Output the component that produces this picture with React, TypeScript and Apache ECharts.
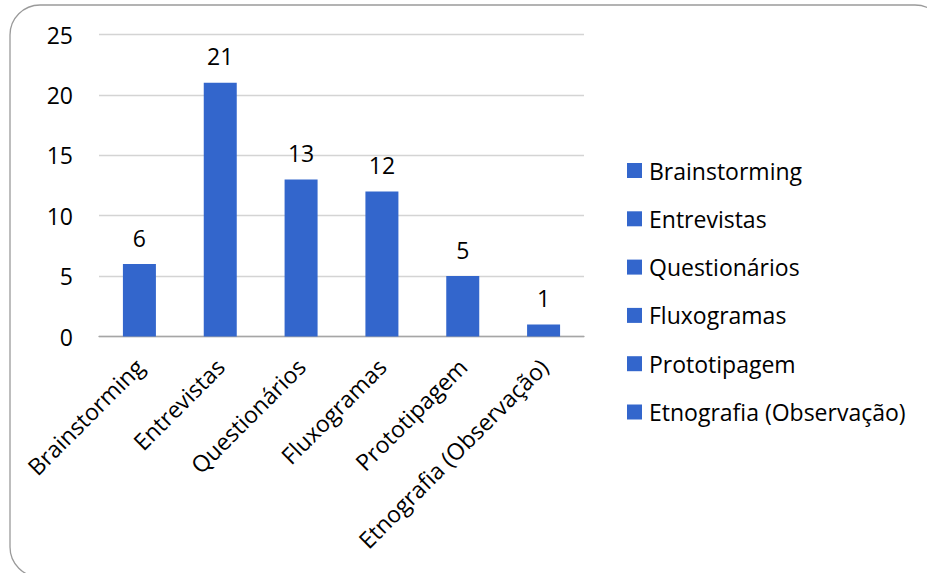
import React, { useEffect, useRef } from "react";
import * as echarts from "echarts";

const categories: string[] = [
  "Brainstorming",
  "Entrevistas",
  "Questionários",
  "Fluxogramas",
  "Prototipagem",
  "Etnografia (Observação)",
];
const values: number[] = [6, 21, 13, 12, 5, 1];
const yTicks = { min: 0, max: 25, interval: 5 };

const FONT = "'Open Sans', 'Noto Sans', sans-serif";
const BAR = "#3366CC";
const FS = 23;

export default function App() {
  const ref = useRef<HTMLDivElement>(null);
  useEffect(() => {
    if (!ref.current) return;
    const chart = echarts.init(ref.current, undefined, { renderer: "svg" });
    const series = categories.map((name, i) => ({
      type: "bar",
      name,
      stack: "all",
      xAxisIndex: 0,
      barWidth: 33,
      itemStyle: { color: BAR },
      label: {
        show: true,
        position: "top",
        distance: 15,
        color: "#000",
        fontSize: FS,
        fontFamily: FONT,
      },
      data: categories.map((_, j) => (j === i ? values[i] : "-")),
    }));
    chart.setOption({
      animation: false,
      backgroundColor: "#fff",
      textStyle: { fontFamily: FONT },
      graphic: [
        {
          type: "rect",
          shape: { x: 10, y: 5, width: 935, height: 572, r: 30 },
          style: { fill: "none", stroke: "#9a9a9a", lineWidth: 1.3 },
          silent: true,
          z: -1,
        },
      ],
      grid: { left: 99, right: 343, top: 34.5, bottom: 236.5 },
      legend: {
        orient: "vertical",
        left: 622,
        top: 154,
        icon: "rect",
        itemWidth: 15,
        itemHeight: 15,
        itemGap: 25.3,
        selectedMode: false,
        data: categories,
        textStyle: {
          fontSize: FS,
          lineHeight: 23,
          color: "#000",
          fontFamily: FONT,
          padding: [0, 0, 0, 2],
        },
      },
      xAxis: [
        {
          type: "category",
          data: categories,
          axisLine: { lineStyle: { color: "#a6a6a6", width: 1.3 } },
          axisTick: { length: 8, lineStyle: { color: "#a6a6a6", width: 1.3 } },
          axisLabel: {
            rotate: 45,
            margin: 26,
            interval: 0,
            color: "#000",
            fontSize: FS,
            fontFamily: FONT,
          },
        },
        {
          type: "category",
          data: categories,
          position: "bottom",
          axisLine: { show: false },
          axisLabel: { show: false },
          axisTick: {
            inside: true,
            length: 7,
            lineStyle: { color: "#a6a6a6", width: 1.3 },
          },
        },
      ],
      yAxis: {
        type: "value",
        min: yTicks.min,
        max: yTicks.max,
        interval: yTicks.interval,
        axisLine: { show: false },
        axisTick: { show: false },
        splitLine: { lineStyle: { color: "#d4d4d4", width: 1.3 } },
        axisLabel: {
          margin: 26,
          color: "#000",
          fontSize: FS,
          fontFamily: FONT,
        },
      },
      series,
    });
    return () => chart.dispose();
  }, []);
  return (
    <div
      ref={ref}
      style={{ position: "fixed", left: 0, top: 0, width: 927, height: 573 }}
    />
  );
}
